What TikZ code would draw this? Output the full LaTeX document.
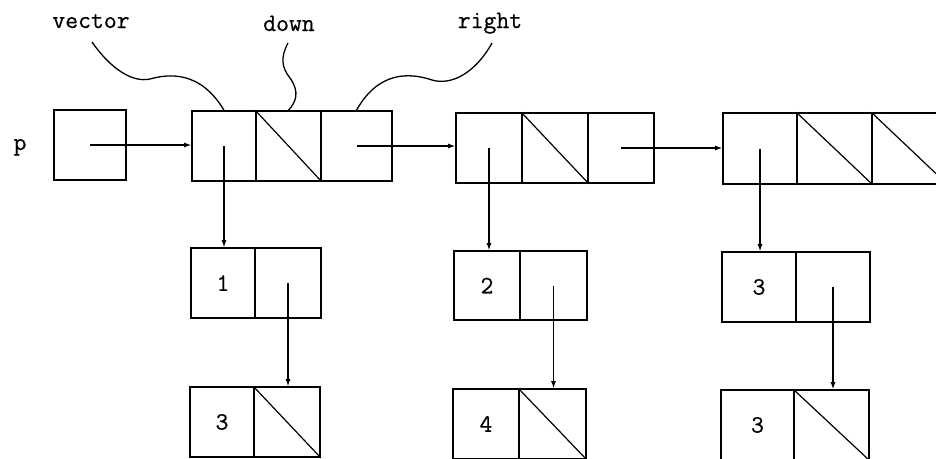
\documentclass[tikz,border=0pt]{standalone}
\usepackage{fontspec}
\setmonofont[FakeBold=0.6]{Latin Modern Mono}
\usetikzlibrary{arrows.meta}
\begin{document}
\begin{tikzpicture}[x=1pt,y=-1pt,
  cell/.style={draw, line width=1.6pt, inner sep=0pt, minimum height=70pt,
    font=\ttfamily\fontsize{25}{30}\selectfont},
  ptr/.style={line width=1.2pt, -{Latex[length=7pt,width=5pt]}},
  nilslash/.style={line width=1.2pt},
  tag/.style={font=\ttfamily\fontsize{25}{30}\selectfont, anchor=base, inner sep=0pt},
  lead/.style={line width=1.3pt}]
\clip (0,0) rectangle (936,458);
\useasboundingbox (0,0) rectangle (936,458);

% variable p
\node[tag] (plabel) at (20,150) {p};
\node[cell, minimum width=72pt] (p) at (90,145) {};

% header records: vector | down | right
\node[cell, minimum width=64pt] (c11) at (224,146) {};
\node[cell, minimum width=65pt] (c12) at (288.5,146) {};
\node[cell, minimum width=71pt] (c13) at (356.5,146) {};

\node[cell, minimum width=66pt] (c21) at (489,148) {};
\node[cell, minimum width=66pt] (c22) at (555,148) {};
\node[cell, minimum width=66pt] (c23) at (621,148) {};

\node[cell, minimum width=74pt, minimum height=71pt] (c31) at (760,148.5) {};
\node[cell, minimum width=75pt, minimum height=71pt] (c32) at (834.5,148.5) {};
\node[cell, minimum width=75pt, minimum height=71pt] (c33) at (909.5,148.5) {};

% element lists
\node[cell, minimum width=64pt] (a11) at (223,283) {1};
\node[cell, minimum width=66pt] (a12) at (288,283) {};
\node[cell, minimum width=64pt] (b11) at (222,422) {3};
\node[cell, minimum width=66pt] (b12) at (287,422) {};

\node[cell, minimum width=66pt, minimum height=69pt] (a21) at (487,285.5) {2};
\node[cell, minimum width=67pt, minimum height=69pt] (a22) at (553.5,285.5) {};
\node[cell, minimum width=66pt] (b21) at (486,424) {4};
\node[cell, minimum width=67pt] (b22) at (552.5,424) {};

\node[cell, minimum width=74pt] (a31) at (759,287) {3};
\node[cell, minimum width=74pt] (a32) at (833,287) {};
\node[cell, minimum width=73pt] (b31) at (757.5,425) {3};
\node[cell, minimum width=75pt] (b32) at (831.5,425) {};

% nil pointers
\foreach \c in {c12,c22,c32,c33,b12,b22,b32}
  \draw[nilslash] (\c.north west) -- (\c.south east);

% pointers
\draw[ptr] (p.center) -- (p.center -| c11.west);
\draw[ptr] (c13.center) -- (c13.center -| c21.west);
\draw[ptr] (c23.center) -- (c23.center -| c31.west);

\draw[ptr] (c11.center) -- (c11.center |- a11.north);
\draw[ptr] (c21.center) -- (c21.center |- a21.north);
\draw[ptr] (c31.center) -- (c31.center |- a31.north);

\draw[ptr] (a12.center) -- (a12.center |- b12.north);
\draw[ptr] (a22.center) -- (a22.center |- b22.north);
\draw[ptr] (a32.center) -- (a32.center |- b32.north);

% field names with leader curves
\node[tag] (lvector) at (91,28) {vector};
\node[tag] (ldown) at (289,31) {down};
\node[tag] (lright) at (490,28) {right};

\coordinate (svector) at (92,42);
\coordinate (sdown) at (288,43);
\coordinate (sright) at (492,43);

\draw[lead] (svector) .. controls (110,68) and (132,83) .. (150,79)
  .. controls (168,74) and (200,70) .. (c11.north);
\draw[lead] (sdown) .. controls (280,58) and (282,68) .. (290,78)
  .. controls (300,92) and (296,102) .. (c12.north);
\draw[lead] (sright) .. controls (476,72) and (452,86) .. (432,80)
  .. controls (408,72) and (378,72) .. (c13.north);
\end{tikzpicture}
\end{document}
